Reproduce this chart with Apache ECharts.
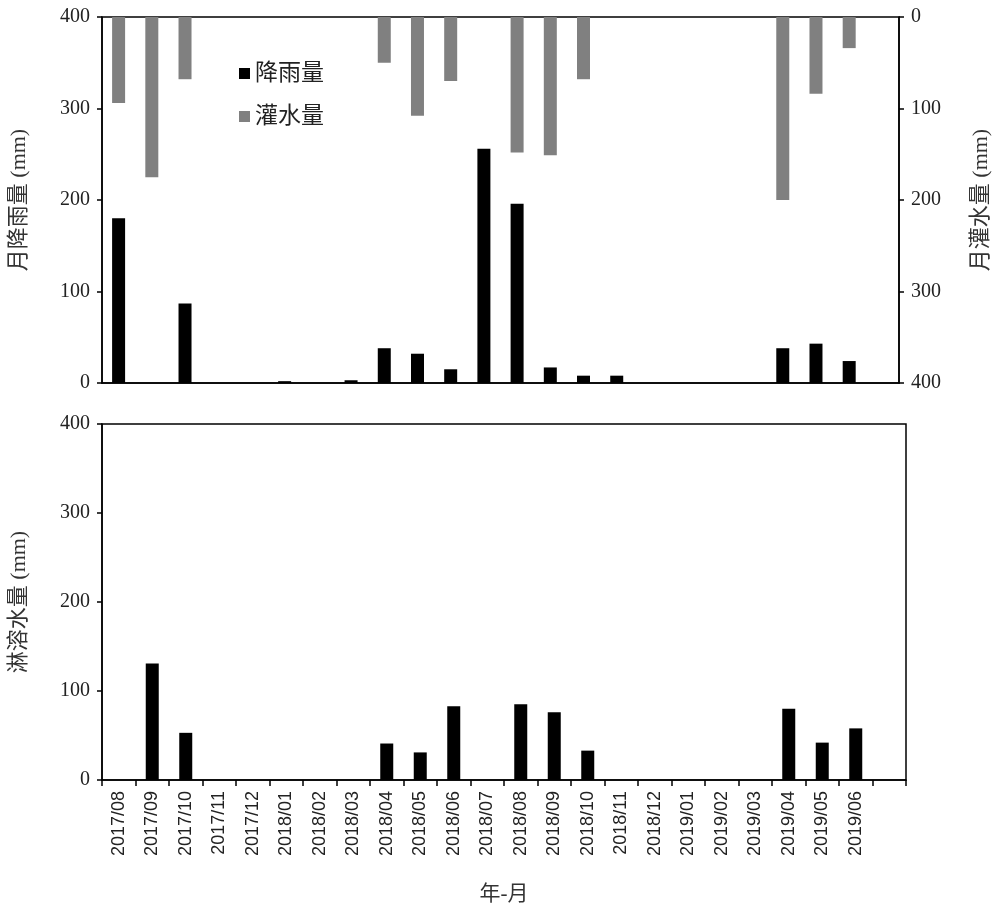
<!DOCTYPE html>
<html>
<head>
<meta charset="utf-8">
<script src="https://cdn.jsdelivr.net/npm/echarts@6/dist/echarts.min.js"></script>
<style>
  html, body { margin: 0; padding: 0; background: #fff; }
  #chart { width: 1000px; height: 916px; }
</style>
</head>
<body>
<div id="chart"></div>
<script>
// months (last slot left empty like the original)
var months = ['2017/08','2017/09','2017/10','2017/11','2017/12',
  '2018/01','2018/02','2018/03','2018/04','2018/05','2018/06','2018/07',
  '2018/08','2018/09','2018/10','2018/11','2018/12',
  '2019/01','2019/02','2019/03','2019/04','2019/05','2019/06',''];
// 月降雨量 (mm)
var rain = [180,0,87,0,0,2,0,3,38,32,15,256,196,17,8,8,0,0,0,0,38,43,24,null];
// 月灌水量 (mm)
var irrigation = [94,175,68,0,0,0,0,0,50,108,70,0,148,151,68,0,0,0,0,0,200,84,34,null];
// 淋溶水量 (mm)
var leaching = [0,131,53,0,0,0,0,0,41,31,83,0,85,76,33,0,0,0,0,0,80,42,58,null];
var yTicks = [0,100,200,300,400];

var serif = 'Liberation Serif, Noto Sans CJK SC';
var black = '#000';

var myChart = echarts.init(document.getElementById('chart'));

function valAxis(idx, pos, inverse, name, nameGap) {
  return {
    type: 'value', gridIndex: idx, position: pos, inverse: inverse,
    min: yTicks[0], max: yTicks[yTicks.length - 1], interval: 100,
    name: name, nameLocation: 'middle', nameGap: nameGap, nameRotate: 90,
    nameTextStyle: { fontFamily: serif, fontSize: 22, color: '#333' },
    axisLine: { show: true, lineStyle: { color: black, width: 1.5 } },
    axisTick: { show: true, length: 5, lineStyle: { color: black, width: 1.5 } },
    axisLabel: { fontFamily: serif, fontSize: 20, color: '#222', margin: 12 },
    splitLine: { show: false }
  };
}

myChart.setOption({
  animation: false,
  grid: [
    { left: 101, right: 97, top: 17, height: 366, show: true, borderColor: black, borderWidth: 1.5 },
    { left: 101, right: 94, top: 424, height: 356, show: true, borderColor: black, borderWidth: 1.5 }
  ],
  legend: {
    left: 234, top: 57, orient: 'vertical', itemGap: 20,
    itemWidth: 11, itemHeight: 11, icon: 'rect',
    textStyle: { fontFamily: serif, fontSize: 23, color: '#222' },
    data: ['降雨量', '灌水量']
  },
  xAxis: [
    {
      type: 'category', gridIndex: 0, data: months,
      axisLine: { lineStyle: { color: black, width: 1.5 } },
      axisTick: { show: false }, axisLabel: { show: false }
    },
    {
      type: 'category', gridIndex: 1, data: months,
      name: '年-月', nameLocation: 'middle', nameGap: 104,
      nameTextStyle: { fontFamily: serif, fontSize: 21, color: '#333' },
      axisLine: { lineStyle: { color: black, width: 1.5 } },
      axisTick: { show: true, length: 6, lineStyle: { color: black, width: 1.5 } },
      axisLabel: { interval: 0, rotate: 90, fontFamily: 'Liberation Sans', fontSize: 18, color: '#222', margin: 11 }
    }
  ],
  yAxis: [
    valAxis(0, 'left', false, '月降雨量 (mm)', 72),
    valAxis(0, 'right', true, '月灌水量 (mm)', 71),
    valAxis(1, 'left', false, '淋溶水量 (mm)', 72)
  ],
  series: [
    {
      name: '降雨量', type: 'bar', xAxisIndex: 0, yAxisIndex: 0,
      data: rain, barWidth: 13, barGap: '-100%',
      itemStyle: { color: black }, z: 3
    },
    {
      name: '灌水量', type: 'bar', xAxisIndex: 0, yAxisIndex: 1,
      data: irrigation, barWidth: 13, barGap: '-100%',
      itemStyle: { color: '#808080' }, z: 2
    },
    {
      name: '淋溶水量', type: 'bar', xAxisIndex: 1, yAxisIndex: 2,
      data: leaching, barWidth: 13,
      itemStyle: { color: black }
    }
  ]
});
</script>
</body>
</html>
